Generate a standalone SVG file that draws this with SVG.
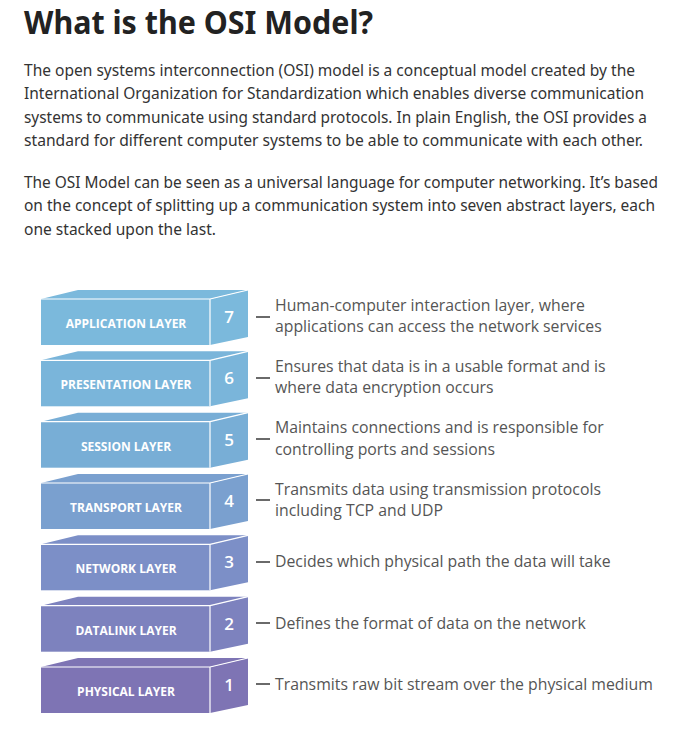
<svg xmlns="http://www.w3.org/2000/svg" width="694" height="741" viewBox="0 0 694 741">
<style>
.title{font-family:"Noto Sans","Open Sans",sans-serif;font-weight:700;font-size:32px;fill:#222}
.para{font-family:"Noto Sans","Open Sans",sans-serif;font-size:15.5px;fill:#333}
.lbl{font-family:"Open Sans","Noto Sans",sans-serif;font-weight:700;font-size:12px;fill:#fff;text-anchor:middle}
.num{font-family:"Open Sans","Noto Sans",sans-serif;font-weight:600;font-size:17px;fill:#fff;text-anchor:middle}
.desc{font-family:"Open Sans","Noto Sans",sans-serif;font-size:15.8px;fill:#555}
.edge{fill:none;stroke:#fff;stroke-width:1.2}
.dash{stroke:#444;stroke-width:1.6}
.c7{fill:#7bb9dc}.c6{fill:#7ab5da}.c5{fill:#78aed6}.c4{fill:#7aa0cf}.c3{fill:#7c8fc7}.c2{fill:#7d82be}.c1{fill:#7e74b4}
</style>
<defs>
<g id="block">
<polygon points="41,299 78,290 248,290 210,299"/>
<rect x="41" y="299" width="169" height="46"/>
<polygon points="210,299 248,290 248,337 210,345"/>
</g>
</defs>
<text class="title" x="24" y="34" textLength="349" lengthAdjust="spacingAndGlyphs">What is the OSI Model?</text>
<g class="para">
<text x="24" y="76" textLength="611" lengthAdjust="spacingAndGlyphs">The open systems interconnection (OSI) model is a conceptual model created by the</text>
<text x="24" y="99" textLength="620" lengthAdjust="spacingAndGlyphs">International Organization for Standardization which enables diverse communication</text>
<text x="24" y="123" textLength="623" lengthAdjust="spacingAndGlyphs">systems to communicate using standard protocols. In plain English, the OSI provides a</text>
<text x="24" y="146" textLength="619" lengthAdjust="spacingAndGlyphs">standard for different computer systems to be able to communicate with each other.</text>
<text x="24" y="188" textLength="634" lengthAdjust="spacingAndGlyphs">The OSI Model can be seen as a universal language for computer networking. It’s based</text>
<text x="24" y="211" textLength="631" lengthAdjust="spacingAndGlyphs">on the concept of splitting up a communication system into seven abstract layers, each</text>
<text x="24" y="235" textLength="192" lengthAdjust="spacingAndGlyphs">one stacked upon the last.</text>
</g>
<g id="layer7" transform="translate(0,0)">
<use href="#block" class="c7"/>
<path class="edge" d="M41,299H210V345M210,299L248,290"/>
<text class="lbl" x="126" y="328">APPLICATION LAYER</text>
<text class="num" x="229" y="323">7</text>
<text class="desc" x="275" y="310.5">Human-computer interaction layer, where</text>
<text class="desc" x="275" y="332.2">applications can access the network services</text>
</g>
<g id="layer6" transform="translate(0,61.3)">
<use href="#block" class="c6"/>
<path class="edge" d="M41,299H210V345M210,299L248,290"/>
<text class="lbl" x="126" y="328">PRESENTATION LAYER</text>
<text class="num" x="229" y="323">6</text>
<text class="desc" x="275" y="310.5">Ensures that data is in a usable format and is</text>
<text class="desc" x="275" y="332.2">where data encryption occurs</text>
</g>
<g id="layer5" transform="translate(0,122.7)">
<use href="#block" class="c5"/>
<path class="edge" d="M41,299H210V345M210,299L248,290"/>
<text class="lbl" x="126" y="328">SESSION LAYER</text>
<text class="num" x="229" y="323">5</text>
<text class="desc" x="275" y="310.5">Maintains connections and is responsible for</text>
<text class="desc" x="275" y="332.2">controlling ports and sessions</text>
</g>
<g id="layer4" transform="translate(0,184)">
<use href="#block" class="c4"/>
<path class="edge" d="M41,299H210V345M210,299L248,290"/>
<text class="lbl" x="126" y="328">TRANSPORT LAYER</text>
<text class="num" x="229" y="323">4</text>
<text class="desc" x="275" y="310.5">Transmits data using transmission protocols</text>
<text class="desc" x="275" y="332.2">including TCP and UDP</text>
</g>
<g id="layer3" transform="translate(0,245.3)">
<use href="#block" class="c3"/>
<path class="edge" d="M41,299H210V345M210,299L248,290"/>
<text class="lbl" x="126" y="328">NETWORK LAYER</text>
<text class="num" x="229" y="323">3</text>
<text class="desc" x="275" y="322">Decides which physical path the data will take</text>
</g>
<g id="layer2" transform="translate(0,306.7)">
<use href="#block" class="c2"/>
<path class="edge" d="M41,299H210V345M210,299L248,290"/>
<text class="lbl" x="126" y="328">DATALINK LAYER</text>
<text class="num" x="229" y="323">2</text>
<text class="desc" x="275" y="322">Defines the format of data on the network</text>
</g>
<g id="layer1" transform="translate(0,368)">
<use href="#block" class="c1"/>
<path class="edge" d="M41,299H210V345M210,299L248,290"/>
<text class="lbl" x="126" y="328">PHYSICAL LAYER</text>
<text class="num" x="229" y="323">1</text>
<text class="desc" x="275" y="322">Transmits raw bit stream over the physical medium</text>
</g>
<g id="connectors" class="dash">
<line x1="256" y1="317" x2="270" y2="317"/>
<line x1="256" y1="378" x2="270" y2="378"/>
<line x1="256" y1="439" x2="270" y2="439"/>
<line x1="256" y1="500" x2="270" y2="500"/>
<line x1="256" y1="562" x2="270" y2="562"/>
<line x1="256" y1="623" x2="270" y2="623"/>
<line x1="256" y1="684" x2="270" y2="684"/>
</g>
</svg>
